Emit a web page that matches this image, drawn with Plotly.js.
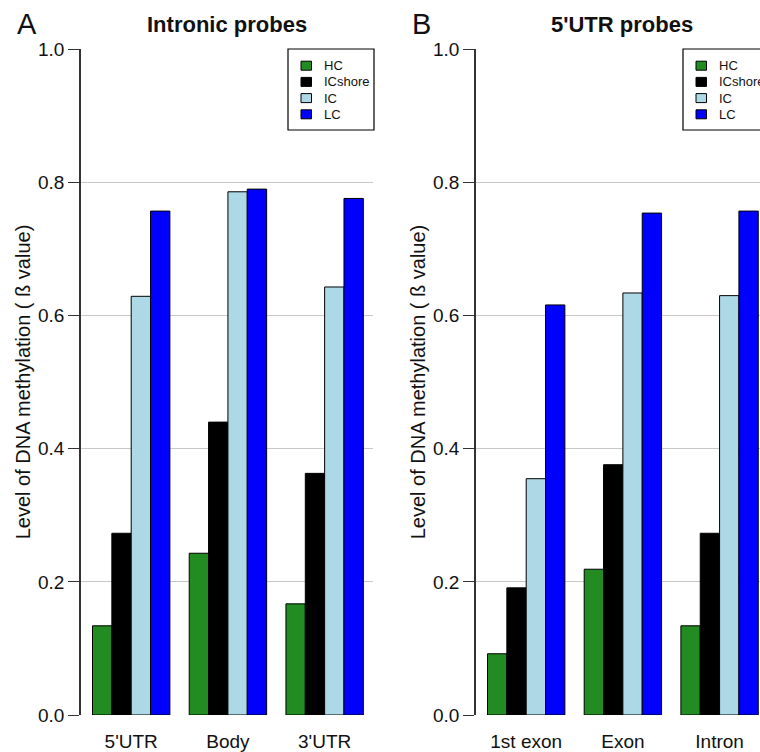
<!DOCTYPE html>
<html>
<head>
<meta charset="utf-8">
<script src="https://cdn.plot.ly/plotly-3.0.1.min.js"></script>
<style>html,body{margin:0;padding:0;background:#fff;}#chart{width:760px;height:752px;}</style>
</head>
<body>
<div id="chart"></div>
<script>
// ---- data ----
const categoriesA = ["5'UTR", "Body", "3'UTR"];
const categoriesB = ["1st exon", "Exon", "Intron"];
const seriesNames = ["HC", "ICshore", "IC", "LC"];
const hcA      = [0.134, 0.243, 0.167];
const icshoreA = [0.273, 0.440, 0.363];
const icA      = [0.629, 0.786, 0.643];
const lcA      = [0.757, 0.790, 0.776];
const hcB      = [0.092, 0.219, 0.134];
const icshoreB = [0.191, 0.376, 0.273];
const icB      = [0.355, 0.634, 0.630];
const lcB      = [0.616, 0.754, 0.757];
const yTicks   = [0, 0.2, 0.4, 0.6, 0.8, 1.0];

// ---- style ----
const colors = ["#228B22", "#000000", "#ADD8E6", "#0000FF"];
const FONT = "Liberation Sans, Arial, Helvetica, sans-serif";
const W = 760, H = 752;
const px = v => v / W;
const py = v => (H - v) / H;

const valuesA = [hcA, icshoreA, icA, lcA];
const valuesB = [hcB, icshoreB, icB, lcB];

const traces = [];
seriesNames.forEach((name, i) => {
  traces.push({
    type: 'bar', name: name, x: categoriesA, y: valuesA[i],
    xaxis: 'x', yaxis: 'y', showlegend: false,
    marker: {color: colors[i], line: {color: '#000', width: 1}},
    hoverinfo: 'x+y+name'
  });
});
seriesNames.forEach((name, i) => {
  traces.push({
    type: 'bar', name: name, x: categoriesB, y: valuesB[i],
    xaxis: 'x2', yaxis: 'y2', showlegend: false,
    marker: {color: colors[i], line: {color: '#000', width: 1}},
    hoverinfo: 'x+y+name'
  });
});

const yTitle = 'Level of DNA methylation ( \u00DF value)';
function yaxisDef(anchor) {
  return {
    anchor: anchor,
    domain: [py(715), py(49)],
    range: [0, 1.0005],
    tickvals: yTicks,
    ticktext: yTicks.map(v => v.toFixed(1)),
    ticks: 'outside', ticklen: 11, tickwidth: 1.3, tickcolor: '#333',
    showline: true, linecolor: '#333', linewidth: 1.5,
    showgrid: true, gridcolor: '#c8c8c8', gridwidth: 1.3,
    zeroline: false,
    tickfont: {family: FONT, size: 19, color: '#111'},
    title: {text: yTitle, font: {family: FONT, size: 20, color: '#111'}, standoff: 2},
    fixedrange: true
  };
}
function xaxisDef(anchor, dom, rng) {
  return {
    anchor: anchor,
    domain: dom,
    range: rng,
    type: 'category',
    showline: false, showgrid: false, zeroline: false,
    ticks: 'outside', ticklen: 9, tickcolor: 'rgba(0,0,0,0)',
    tickfont: {family: FONT, size: 19, color: '#111'},
    fixedrange: true
  };
}

// ---- legend boxes (one per panel), built from seriesNames / colors ----
const shapes = [];
const annotations = [];
function addLegend(left) {
  shapes.push({type: 'rect', xref: 'paper', yref: 'paper',
    x0: px(left), x1: px(left + 86), y0: py(49), y1: py(130),
    fillcolor: '#fff', line: {color: '#000', width: 1.2}, layer: 'above'});
  seriesNames.forEach((name, i) => {
    const cy = 65.7 + i * 16.2;
    shapes.push({type: 'rect', xref: 'paper', yref: 'paper',
      x0: px(left + 13), x1: px(left + 23.5), y0: py(cy + 4.5), y1: py(cy - 4.5),
      fillcolor: colors[i], line: {color: '#000', width: 1}, layer: 'above'});
    annotations.push({text: name, xref: 'paper', yref: 'paper',
      x: px(left + 34), y: py(cy), xanchor: 'left', yanchor: 'middle',
      showarrow: false, font: {family: FONT, size: 13, color: '#111'}});
  });
}
addLegend(288);
addLegend(683);

annotations.push(
  {text: '<b>Intronic probes</b>', xref: 'paper', yref: 'paper', x: px(227), y: py(25),
   xanchor: 'center', yanchor: 'middle', showarrow: false, font: {family: FONT, size: 22, color: '#111'}},
  {text: "<b>5'UTR probes</b>", xref: 'paper', yref: 'paper', x: px(622), y: py(25),
   xanchor: 'center', yanchor: 'middle', showarrow: false, font: {family: FONT, size: 22, color: '#111'}},
  {text: 'A', xref: 'paper', yref: 'paper', x: px(15), y: py(24),
   xanchor: 'left', yanchor: 'middle', showarrow: false, font: {family: FONT, size: 29, color: '#111'}},
  {text: 'B', xref: 'paper', yref: 'paper', x: px(410), y: py(24),
   xanchor: 'left', yanchor: 'middle', showarrow: false, font: {family: FONT, size: 29, color: '#111'}}
);

const layout = {
  width: W, height: H,
  margin: {l: 0, r: 0, t: 0, b: 0, autoexpand: false},
  paper_bgcolor: '#fff', plot_bgcolor: '#fff',
  barmode: 'group', bargap: 0.2, bargroupgap: 0,
  showlegend: false,
  xaxis: xaxisDef('y', [px(81), px(373)], [-0.519, 2.5]),
  yaxis: yaxisDef('x'),
  xaxis2: xaxisDef('y2', [px(476), 1], [-0.519, 2.418]),
  yaxis2: yaxisDef('x2'),
  shapes: shapes,
  annotations: annotations
};

Plotly.newPlot('chart', traces, layout, {displayModeBar: false, responsive: false});
</script>
</body>
</html>
